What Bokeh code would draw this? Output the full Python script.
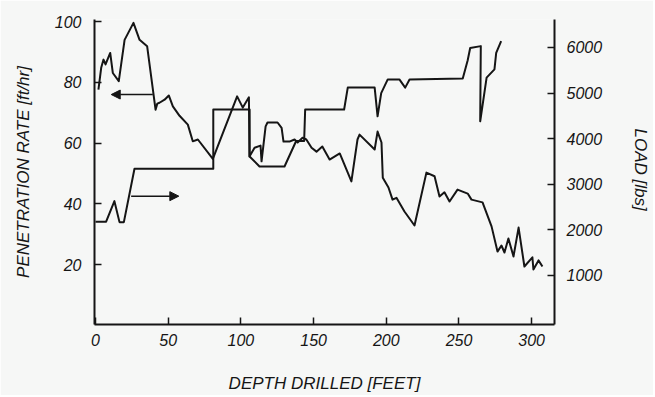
from bokeh.plotting import figure
from bokeh.models import Range1d, LinearAxis, FixedTicker, Arrow, NormalHead
from bokeh.embed import file_html
from bokeh.resources import INLINE

# ---- data ----
depth_ticks = [0, 50, 100, 150, 200, 250, 300]
rate_ticks = [20, 40, 60, 80, 100]
load_ticks = [1000, 2000, 3000, 4000, 5000, 6000]

# penetration rate (ft/hr) vs depth (ft) - left axis
pen_depth = [2, 3.9, 5.5, 6.9, 10.1, 11.9, 16, 20, 26.1, 30.3, 35.5, 41.3, 42.5, 44,
             47.5, 50.4, 53.2, 57.8, 63.5, 66.9, 70.4, 80.7, 97.4, 101.3, 105.5, 105.9,
             109.4, 113.5, 114.2, 117, 118.3, 125.2, 128, 129.3, 133.4, 136.9, 139,
             142.4, 145, 148.6, 152, 156, 161, 168, 176, 180.2, 181.6, 192, 194, 196.7,
             197.6, 201.5, 204.3, 207, 212.5, 219.4, 227.6, 233.2, 236.6, 240, 243.5,
             249, 256, 258.6, 266.2, 272.4, 276.5, 279.2, 281.3, 284, 287.5, 291, 295,
             300.5, 301.2, 304.7, 307.4]
pen_rate = [77.6, 84.8, 87.5, 85.9, 89.7, 83.1, 80.4, 94, 99.6, 94, 91.9, 71, 73, 73.3,
            74.3, 75.7, 72.1, 69, 66.1, 60.6, 61.2, 54.8, 75.4, 71.7, 75.1, 55.6,
            58.5, 59.2, 54, 65.5, 66.8, 66.8, 65, 60.5, 60.5, 61.2, 60.2,
            61.8, 61.2, 58.5, 57.2, 58.9, 54.6, 56.6, 47.4, 61.2, 62.8, 57.9, 63.8, 60.2,
            48.6, 45.4, 41.4, 42, 37.5, 32.9, 50.3, 49.1, 42.4, 43.8, 40.8,
            44.7, 43.4, 41.4, 40.5, 32.6, 24.3, 26.3, 24, 28.6, 22.7, 32.2, 19.4,
            22.4, 18.4, 21.4, 19.4]

# load (lbs) vs depth (ft) - right axis
load_depth = [0, 7.3, 13, 16.5, 19.5, 26.8, 81, 81, 106, 106, 112.8, 130, 138, 143.5,
              144.2, 171, 173.5, 192, 194, 196.5, 201, 209, 213, 216, 252.6, 256, 257.7,
              265, 264.6, 269, 274.4, 275.6, 279]
load_lbs = [2180, 2180, 2630, 2170, 2170, 3340, 3340, 4640, 4640, 3610, 3390, 3390, 3950,
            3950, 4640, 4640, 5120, 5120, 4490, 5000, 5300, 5300, 5120, 5300, 5320, 5720,
            5990, 6030, 4380, 5340, 5520, 5880, 6140]

# arrows pointing each curve to its axis
rate_arrow = dict(x_start=39.4, x_end=10.8, y=76)
load_arrow = dict(x_start=24.5, x_end=57.3, y=2740)

INK = "#151515"
BG = "#f6f7f6"
FONT = "Liberation Sans"

p = figure(frame_width=460, frame_height=305, output_backend="svg",
           toolbar_location=None,
           x_range=Range1d(-0.7, 315.7), y_range=Range1d(0.3, 100.7),
           min_border_left=94, min_border_right=96, min_border_top=19,
           min_border_bottom=69)
p.extra_y_ranges = {"load": Range1d(-75, 6614)}
p.background_fill_color = BG
p.border_fill_color = BG
p.outline_line_color = None
p.xgrid.visible = False
p.ygrid.visible = False

right = LinearAxis(y_range_name="load")
p.add_layout(right, "right")

def style(ax, ticks, title, label_standoff, title_standoff):
    ax.ticker = FixedTicker(ticks=ticks)
    ax.axis_label = title
    ax.axis_line_width = 2
    ax.axis_line_color = INK
    ax.major_tick_in = 7
    ax.major_tick_out = 0
    ax.major_tick_line_width = 1.5
    ax.major_tick_line_color = INK
    ax.minor_tick_line_color = None
    ax.major_label_text_font = FONT
    ax.major_label_text_font_style = "italic"
    ax.major_label_text_font_size = "16px"
    ax.major_label_text_color = INK
    ax.major_label_standoff = label_standoff
    ax.axis_label_text_font = FONT
    ax.axis_label_text_font_style = "italic"
    ax.axis_label_text_font_size = "17px"
    ax.axis_label_text_color = INK
    ax.axis_label_standoff = title_standoff

style(p.xaxis[0], depth_ticks, "DEPTH DRILLED [FEET]", 9, 25)
style(p.yaxis[0], rate_ticks, "PENETRATION RATE [ft/hr]", 13, 19)
style(right, load_ticks, "LOAD  [lbs]", 12, 26)

p.line(pen_depth, pen_rate, line_color=INK, line_width=2, line_join="round")
p.line(load_depth, load_lbs, line_color=INK, line_width=2, line_join="round",
       y_range_name="load")

p.add_layout(Arrow(end=NormalHead(size=9, fill_color=INK, line_color=INK),
                   x_start=rate_arrow["x_start"], x_end=rate_arrow["x_end"],
                   y_start=rate_arrow["y"], y_end=rate_arrow["y"],
                   line_color=INK, line_width=1.5))
p.add_layout(Arrow(end=NormalHead(size=9, fill_color=INK, line_color=INK),
                   x_start=load_arrow["x_start"], x_end=load_arrow["x_end"],
                   y_start=load_arrow["y"], y_end=load_arrow["y"],
                   line_color=INK, line_width=1.5, y_range_name="load"))

open("out.html", "w").write(file_html(p, INLINE))
